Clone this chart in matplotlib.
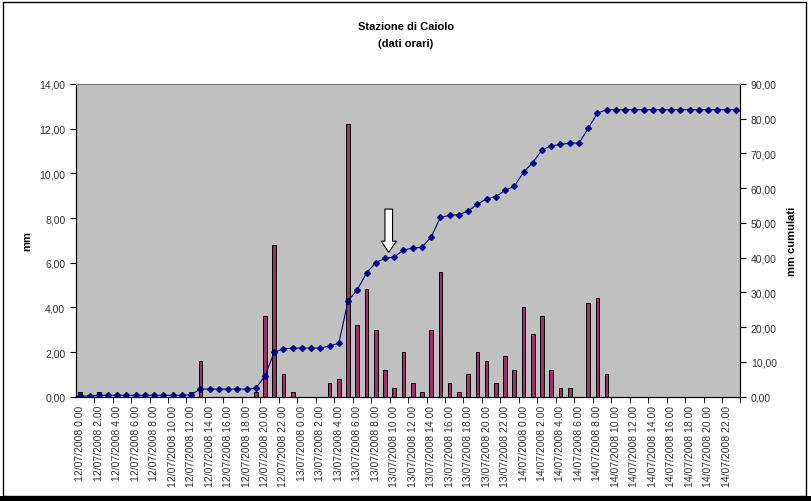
import matplotlib
matplotlib.use("Agg")
import matplotlib.pyplot as plt
from matplotlib.patches import FancyArrowPatch, Rectangle
from matplotlib.ticker import FuncFormatter, FixedLocator
import numpy as np

plt.rcParams['font.family'] = ['Liberation Sans', 'DejaVu Sans']

# hourly rain (mm) 12/07/2008 0.00 -> 14/07/2008 23.00
rain = [0.2, 0, 0.2, 0, 0, 0, 0, 0, 0, 0, 0, 0, 0.2, 1.6, 0, 0, 0, 0, 0, 0.2,
        3.6, 6.8, 1.0, 0.2, 0, 0, 0, 0.6, 0.8, 12.2, 3.2, 4.8, 3.0, 1.2, 0.4, 2.0,
        0.6, 0.2, 3.0, 5.6, 0.6, 0.2, 1.0, 2.0, 1.6, 0.6, 1.8, 1.2, 4.0, 2.8, 3.6, 1.2,
        0.4, 0.4, 0, 4.2, 4.4, 1.0, 0, 0, 0, 0, 0, 0, 0, 0, 0, 0, 0, 0, 0, 0]

# cumulated rain (mm)
cumul = [0.2, 0.2, 0.4, 0.4, 0.4, 0.4, 0.4, 0.4, 0.4, 0.4, 0.4, 0.4, 0.6, 2.2, 2.2, 2.2,
         2.2, 2.2, 2.2, 2.4, 6.0, 12.8, 13.8, 14.0, 14.0, 14.0, 14.0, 14.6, 15.4, 27.6,
         30.8, 35.6, 38.6, 39.8, 40.2, 42.2, 42.8, 43.0, 46.0, 51.6, 52.2, 52.4, 53.4,
         55.4, 57.0, 57.6, 59.4, 60.6, 64.6, 67.4, 71.0, 72.2, 72.6, 73.0, 73.0, 77.2,
         81.6, 82.6, 82.6, 82.6, 82.6, 82.6, 82.6, 82.6, 82.6, 82.6, 82.6, 82.6, 82.6,
         82.6, 82.6, 82.6]

days = ['12/07/2008', '13/07/2008', '14/07/2008']
labels = [f'{d} {h}.00' for d in days for h in range(24)]

x = np.arange(len(rain))

fig = plt.figure(figsize=(8.12, 5.02), dpi=100)
ax = fig.add_axes([75.7/812, 1-397.7/502, (740.5-75.7)/812, (397.7-85)/502])
ax.set_facecolor('#c0c0c0')

ax.bar(x, rain, width=0.4, color='#993366', edgecolor='black', linewidth=0.7, zorder=2)
ax.set_xlim(-0.5, len(rain)-0.5)
ax.set_ylim(0, 14)
ax.set_yticks(np.arange(0, 15, 2))
fmt = FuncFormatter(lambda v, p: f'{v:.2f}'.replace('.', ','))
ax.yaxis.set_major_formatter(fmt)
ax.set_xticks(x[::2])
ax.set_xticklabels(labels[::2], rotation=90, fontsize=7.5, color='#333333')
ax.tick_params(axis='x', length=0, pad=6)
ax.xaxis.set_minor_locator(FixedLocator(np.arange(1.5, len(rain), 2)))
ax.tick_params(axis='x', which='minor', length=4, direction='out')
ax.tick_params(axis='y', labelsize=7.5, length=4, labelcolor='#333333')
ax.set_ylabel('mm', fontsize=8, fontweight='bold')
ax.yaxis.set_label_coords(-0.066, 0.5)

ax2 = ax.twinx()
ax2.plot(x, cumul, color='#000080', linewidth=0.8, marker='D', markersize=3, zorder=3)
ax2.set_ylim(0, 90)
ax2.set_yticks(np.arange(0, 91, 10))
ax2.yaxis.set_major_formatter(fmt)
ax2.tick_params(axis='y', labelsize=7.5, length=4, labelcolor='#333333')
ax2.set_ylabel('mm cumulati', fontsize=8, fontweight='bold')
ax2.yaxis.set_label_coords(1.07, 0.5)

for a in (ax, ax2):
    for s in a.spines.values():
        s.set_color('#808080')
    a.spines['left'].set_color('black')
    a.spines['right'].set_color('black')
    a.spines['bottom'].set_color('black')

arrow = FancyArrowPatch((0.4709, 0.600), (0.4709, 0.4618), transform=ax.transAxes,
                        arrowstyle='simple,head_width=1.1,head_length=0.8,tail_width=0.55',
                        mutation_scale=10, facecolor='white', edgecolor='black',
                        linewidth=0.8, shrinkA=0, shrinkB=0, zorder=5)
ax2.add_patch(arrow)

fig.text(0.5, 1-27/502, 'Stazione di Caiolo', ha='center', va='center',
         fontsize=8, fontweight='bold')
fig.text(0.5, 1-44/502, '(dati orari)', ha='center', va='center',
         fontsize=8, fontweight='bold')

fig.patches.append(Rectangle((3/812, 5/502), 803/812, 494/502, transform=fig.transFigure,
                             fill=False, edgecolor='black', linewidth=1))
fig.patches.append(Rectangle((0, 0), 1, 5/502, transform=fig.transFigure,
                             facecolor='black', edgecolor='none'))

fig.savefig('out.png', dpi=100)
